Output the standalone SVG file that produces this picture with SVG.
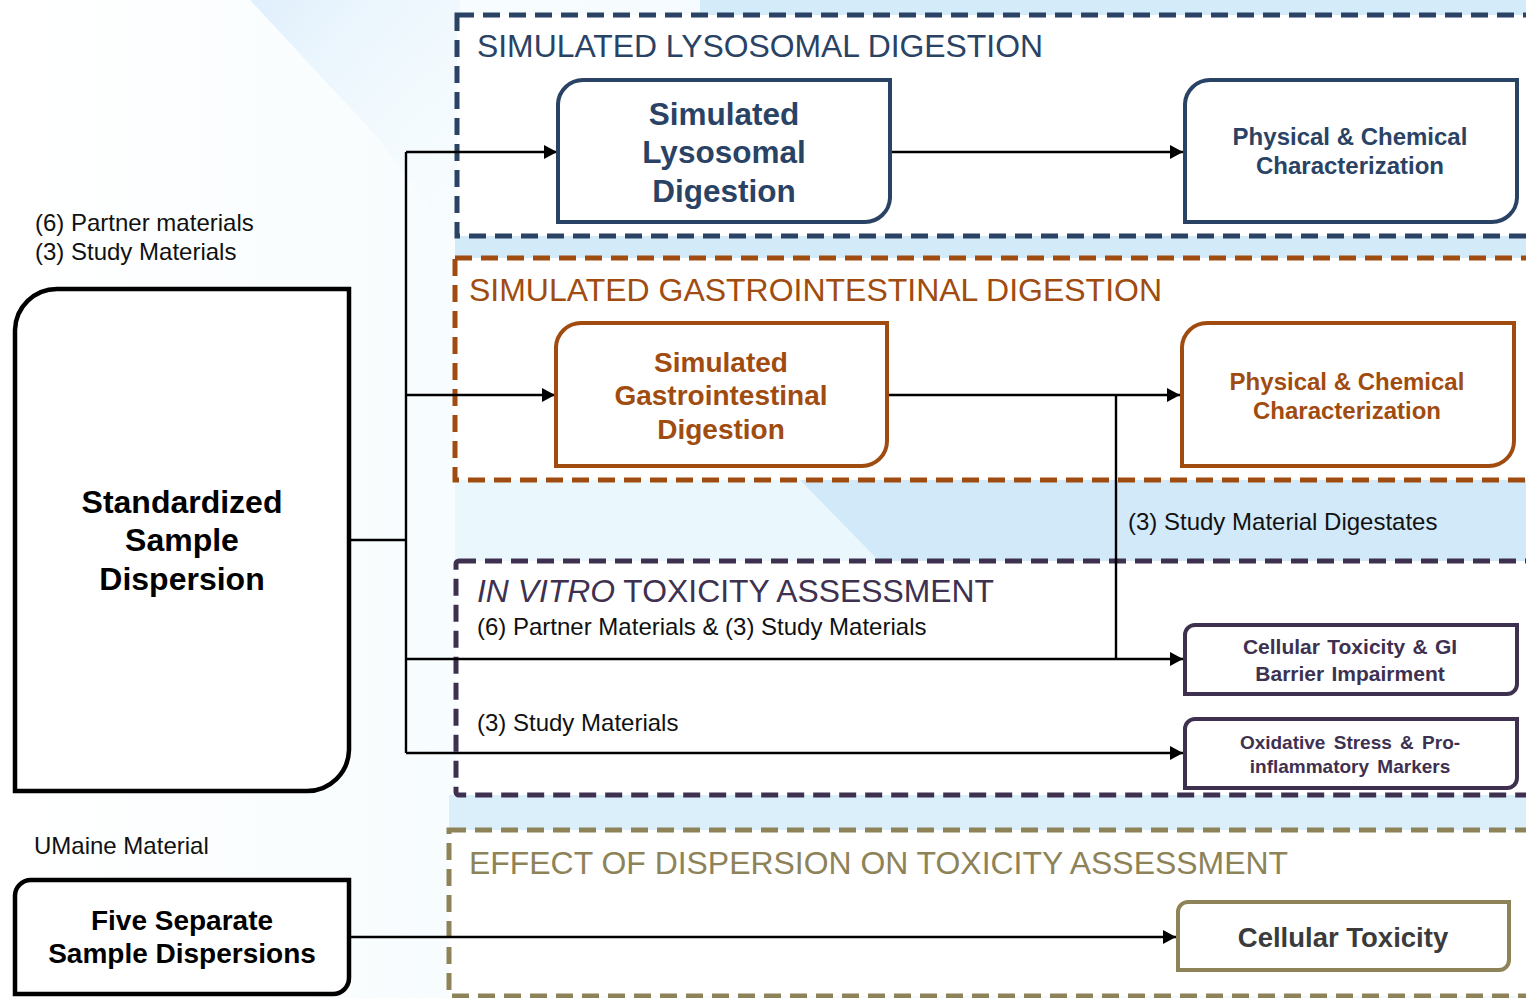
<svg xmlns="http://www.w3.org/2000/svg" width="1526" height="998" viewBox="0 0 1526 998">
<style>
.t{font-family:"Liberation Sans",Arial,sans-serif}
.b{font-family:"Liberation Sans",Arial,sans-serif;font-weight:bold;text-anchor:middle}
.title{font-size:31px}
.lbl{font-size:24px;fill:#111}
.con{fill:none;stroke:#000;stroke-width:2.4}
.arr{marker-end:url(#ah)}
.cont{fill:#fff;stroke-width:5;stroke-dasharray:17 9}
</style>
<defs>
<marker id="ah" markerUnits="userSpaceOnUse" markerWidth="14" markerHeight="14" refX="13" refY="7" orient="auto">
<path d="M0,0 L13,7 L0,14 Z" fill="#000"/>
</marker>
<linearGradient id="bg1" x1="0" y1="0" x2="1" y2="0">
<stop offset="0" stop-color="#ffffff"/>
<stop offset="0.3" stop-color="#eef9fd"/>
<stop offset="1" stop-color="#d6edfb"/>
</linearGradient>
<linearGradient id="bg2" x1="0" y1="0" x2="1" y2="1">
<stop offset="0" stop-color="#d4e9fb" stop-opacity="0.7"/>
<stop offset="1" stop-color="#eef9fd" stop-opacity="0"/>
</linearGradient>
</defs>

<!-- background -->
<rect x="0" y="0" width="1526" height="998" fill="#ffffff"/>
<rect x="0" y="0" width="1526" height="998" fill="url(#bg1)" opacity="0.45"/>
<polygon points="250,0 460,0 460,250 380,140" fill="url(#bg2)"/>
<polygon points="700,0 1526,0 1526,20 700,20" fill="#d4ebfa"/>
<rect x="455" y="236" width="1071" height="24" fill="#d3eaf9"/>
<polygon points="455,480 1526,480 1526,562 455,562" fill="#eaf8fd"/>
<polygon points="800,480 1526,480 1526,562 880,562" fill="#d2e9f9"/>
<rect x="449" y="795" width="1077" height="36" fill="#dbeffb"/>

<!-- containers -->
<g id="lyso-container">
<rect class="cont" x="457" y="15" width="1100" height="221" stroke="#2a4365"/>
<text class="t title" x="477" y="57" fill="#2a4365" textLength="566" lengthAdjust="spacingAndGlyphs">SIMULATED LYSOSOMAL DIGESTION</text>
</g>
<g id="gi-container">
<rect class="cont" x="455" y="258" width="1100" height="222" stroke="#a04c10"/>
<text class="t title" x="469" y="301" fill="#a04c10" textLength="693" lengthAdjust="spacingAndGlyphs">SIMULATED GASTROINTESTINAL DIGESTION</text>
</g>
<g id="invitro-container">
<rect class="cont" x="456" y="561" width="1100" height="234" rx="3" stroke="#3e3150"/>
<text class="t title" x="477" y="602" fill="#3e3150" textLength="517" lengthAdjust="spacingAndGlyphs"><tspan font-style="italic">IN VITRO</tspan> TOXICITY ASSESSMENT</text>
<text class="t lbl" x="477" y="635">(6) Partner Materials &amp; (3) Study Materials</text>
<text class="t lbl" x="477" y="731">(3) Study Materials</text>
</g>
<g id="effect-container">
<rect class="cont" x="449" y="830" width="1110" height="166" stroke="#8e8358"/>
<text class="t title" x="469" y="874" fill="#8e8358" textLength="819" lengthAdjust="spacingAndGlyphs">EFFECT OF DISPERSION ON TOXICITY ASSESSMENT</text>
</g>

<!-- connectors -->
<g id="connectors">
<path class="con" d="M350,540 H406"/>
<path class="con" d="M406,152 V753"/>
<path class="con arr" d="M406,152 H557"/>
<path class="con arr" d="M406,395 H555"/>
<path class="con arr" d="M406,659 H1183"/>
<path class="con arr" d="M406,753 H1183"/>
<path class="con arr" d="M891,152 H1183"/>
<path class="con arr" d="M888,395 H1180"/>
<path class="con" d="M1116,395 V659"/>
<path class="con arr" d="M350,937 H1176"/>
<text class="t lbl" x="1128" y="530">(3) Study Material Digestates</text>
</g>

<!-- left labels -->
<g id="labels-left">
<text class="t lbl" x="35" y="231">(6) Partner materials</text>
<text class="t lbl" x="35" y="260">(3) Study Materials</text>
<text class="t lbl" x="34" y="854">UMaine Material</text>
</g>

<!-- nodes -->
<g id="standardized">
<path d="M15,330 A42,42 0 0 1 57,289 H349 V750 A42,42 0 0 1 307,791 H15 Z" fill="#fff" stroke="#000" stroke-width="4.5"/>
<text class="b" font-size="32" fill="#000"><tspan x="182" y="513">Standardized</tspan><tspan x="182" y="551">Sample</tspan><tspan x="182" y="590">Dispersion</tspan></text>
</g>
<g id="five-separate">
<path d="M15,897 A16,16 0 0 1 31,880 H349 V978 A16,16 0 0 1 333,994 H15 Z" fill="#fff" stroke="#000" stroke-width="4.5"/>
<text class="b" font-size="28" fill="#000"><tspan x="182" y="930">Five Separate</tspan><tspan x="182" y="963">Sample Dispersions</tspan></text>
</g>

<g id="lyso-box">
<path d="M558,104 A25,25 0 0 1 583,80 H890 V198 A25,25 0 0 1 865,222 H558 Z" fill="#fff" stroke="#2a4365" stroke-width="4"/>
<text class="b" font-size="31.5" fill="#2a4365"><tspan x="724" y="125">Simulated</tspan><tspan x="724" y="163">Lysosomal</tspan><tspan x="724" y="202">Digestion</tspan></text>
</g>
<g id="lyso-phys">
<path d="M1185,104 A25,25 0 0 1 1210,80 H1517 V198 A25,25 0 0 1 1492,222 H1185 Z" fill="#fff" stroke="#2a4365" stroke-width="4"/>
<text class="b" font-size="24" fill="#2a4365"><tspan x="1350" y="145">Physical &amp; Chemical</tspan><tspan x="1350" y="174">Characterization</tspan></text>
</g>

<g id="gi-box">
<path d="M556,347 A25,25 0 0 1 581,323 H887 V441 A25,25 0 0 1 862,466 H556 Z" fill="#fff" stroke="#a04c10" stroke-width="4"/>
<text class="b" font-size="28" fill="#a04c10"><tspan x="721" y="372">Simulated</tspan><tspan x="721" y="405">Gastrointestinal</tspan><tspan x="721" y="439">Digestion</tspan></text>
</g>
<g id="gi-phys">
<path d="M1182,347 A25,25 0 0 1 1207,323 H1514 V441 A25,25 0 0 1 1489,466 H1182 Z" fill="#fff" stroke="#a04c10" stroke-width="4"/>
<text class="b" font-size="24" fill="#a04c10"><tspan x="1347" y="390">Physical &amp; Chemical</tspan><tspan x="1347" y="419">Characterization</tspan></text>
</g>

<g id="cellular-gi">
<path d="M1185,635 A10,10 0 0 1 1195,625 H1517 V684 A10,10 0 0 1 1507,694 H1185 Z" fill="#fff" stroke="#3e3150" stroke-width="4"/>
<text class="b" font-size="21" fill="#3e3150" word-spacing="1.5"><tspan x="1350" y="654">Cellular Toxicity &amp; GI</tspan><tspan x="1350" y="681">Barrier Impairment</tspan></text>
</g>
<g id="oxidative">
<path d="M1185,729 A10,10 0 0 1 1195,719 H1517 V778 A10,10 0 0 1 1507,788 H1185 Z" fill="#fff" stroke="#3e3150" stroke-width="4"/>
<text class="b" font-size="19" fill="#3e3150" word-spacing="3"><tspan x="1350" y="749">Oxidative Stress &amp; Pro-</tspan><tspan x="1350" y="773">inflammatory Markers</tspan></text>
</g>

<g id="cellular-tox">
<path d="M1178,912 A10,10 0 0 1 1188,902 H1509 V960 A10,10 0 0 1 1499,970 H1178 Z" fill="#fff" stroke="#8e8358" stroke-width="4"/>
<text class="b" font-size="27.5" fill="#3b3b3b"><tspan x="1343" y="947">Cellular Toxicity</tspan></text>
</g>
</svg>
